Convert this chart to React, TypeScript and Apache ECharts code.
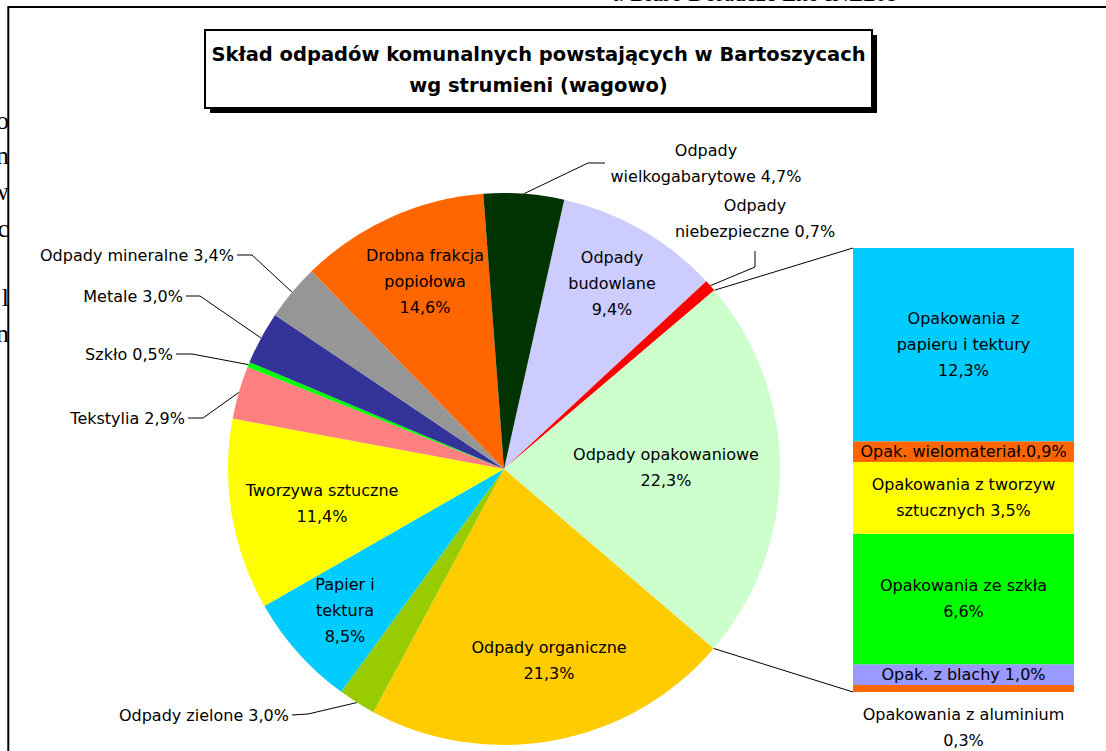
import React, { useEffect, useRef } from "react";
import * as echarts from "echarts";

// ---------- data ----------
const pieNames = [
  "Odpady\nbudowlane",
  "Odpady\nniebezpieczne",
  "Odpady opakowaniowe",
  "Odpady organiczne",
  "Odpady zielone",
  "Papier i\ntektura",
  "Tworzywa sztuczne",
  "Tekstylia",
  "Szkło",
  "Metale",
  "Odpady mineralne",
  "Drobna frakcja\npopiołowa",
  "Odpady\nwielkogabarytowe",
];
const pieLabelSep = ["\n", " ", "\n", "\n", " ", "\n", "\n", " ", " ", " ", " ", "\n", " "];
// percentages printed on the chart
const piePrinted = [9.4, 0.7, 22.3, 21.3, 3.0, 8.5, 11.4, 2.9, 0.5, 3.0, 3.4, 14.6, 4.7];
// slice sizes as drawn in the picture
const pieShares = [9.6, 0.7, 22.5, 21.6, 2.2, 6.7, 11.2, 3.1, 0.3, 3.1, 3.3, 11.1, 4.7];

const barNames = [
  "Opakowania z\npapieru i tektury",
  "Opak. wielomateriał.",
  "Opakowania z tworzyw\nsztucznych",
  "Opakowania ze szkła",
  "Opak. z blachy",
  "Opakowania z aluminium",
];
const barSep = ["\n", "", " ", "\n", " ", "\n"];
const barPrinted = [12.3, 0.9, 3.5, 6.6, 1.0, 0.3];
// segment heights as drawn
const barShares = [9.7, 1.05, 3.6, 6.55, 1.05, 0.35];

const titleText = "Skład odpadów komunalnych powstających w Bartoszycach\nwg strumieni (wagowo)";

// ---------- styles / layout ----------
const pieColors = ["#CCCCFF", "#FF0000", "#CCFFCC", "#FFCC00", "#99CC00", "#00CCFF", "#FFFF00", "#FF8080", "#00FF00", "#333399", "#969696", "#FF6600", "#003300"];
const barColors = ["#00CCFF", "#FF6600", "#FFFF00", "#00FF00", "#9999FF", "#FF6600"];

const FONT = "DejaVu Sans";
const PIE_CX = 504, PIE_CY = 469, PIE_R = 276;
const PIE_START = 12.6; // degrees clockwise from 12 o'clock
const BAR_LEFT = 853, BAR_TOP = 248, BAR_W = 221, BAR_H = 444;
const OPAK_INDEX = 2;

type LP = { x: number; y: number; align: string; elbow?: number[][] };
const pieLabelPos: LP[] = [
  { x: 612, y: 283, align: "center" },
  { x: 755, y: 218, align: "center", elbow: [[755, 267], [755, 251]] },
  { x: 666, y: 467, align: "center" },
  { x: 549, y: 660, align: "center" },
  { x: 289, y: 715, align: "right", elbow: [[308, 714], [292, 715]] },
  { x: 345, y: 610, align: "center" },
  { x: 322, y: 503, align: "center" },
  { x: 185, y: 418, align: "right", elbow: [[203, 418], [188, 418]] },
  { x: 173, y: 354, align: "right", elbow: [[192, 354], [176, 354]] },
  { x: 183, y: 296, align: "right", elbow: [[200, 296], [186, 296]] },
  { x: 234, y: 255, align: "right", elbow: [[252, 255], [237, 255]] },
  { x: 425, y: 281, align: "center" },
  { x: 706, y: 163, align: "center", elbow: [[588, 163], [605, 163]] },
];

const bgLetters = ["o", "n", "w", "c", "l", "n"];
const bgLetterY = [120, 155, 191, 228, 297, 333];

const fmt = (v: number) => v.toFixed(1).replace(".", ",") + "%";

const pieTotal = pieShares.reduce((a, b) => a + b, 0);
const cumBefore = (i: number) => pieShares.slice(0, i).reduce((a, b) => a + b, 0);
const pointAt = (share: number) => {
  const deg = PIE_START + (share / pieTotal) * 360;
  const rad = (deg * Math.PI) / 180;
  return [PIE_CX + PIE_R * Math.sin(rad), PIE_CY - PIE_R * Math.cos(rad)];
};
const edgePoint = (i: number) => pointAt(cumBefore(i) + pieShares[i] / 2);

export default function App() {
  const ref = useRef<HTMLDivElement>(null);
  useEffect(() => {
    document.body.style.margin = "0";
    const chart = echarts.init(ref.current as HTMLDivElement, undefined, { renderer: "svg" });

    const barTotal = barShares.reduce((a, b) => a + b, 0);
    const barOrder = barShares.map((_, i) => barShares.length - 1 - i); // bottom first

    const opStart = pointAt(cumBefore(OPAK_INDEX));
    const opEnd = pointAt(cumBefore(OPAK_INDEX + 1));

    const graphic: any[] = [];
    bgLetters.forEach((t, i) => {
      graphic.push({
        type: "text", x: 9, y: bgLetterY[i], z: 0,
        style: { text: t, fill: "#000", font: "26px 'Liberation Serif'", textAlign: "right", textVerticalAlign: "middle" },
      });
    });
    graphic.push({
      type: "text", x: 612, y: 5, z: 0,
      style: { text: "t. Biuro Doradcze Eko INEBA", fill: "#000", font: "23px 'Liberation Serif'", textAlign: "left", textVerticalAlign: "bottom" },
    });
    graphic.push({
      type: "rect", z: 1, shape: { x: 8.3, y: 7, width: 1300, height: 900 },
      style: { fill: "none", stroke: "#000", lineWidth: 2 },
    });
    graphic.push({
      type: "rect", z: 1, shape: { x: 210, y: 35, width: 667, height: 78 },
      style: { fill: "#000" },
    });
    graphic.push({
      type: "rect", z: 1, shape: { x: 205, y: 30, width: 667, height: 78 },
      style: { fill: "#fff", stroke: "#000", lineWidth: 2 },
    });
    graphic.push({
      type: "line", z: 1, shape: { x1: opStart[0], y1: opStart[1], x2: BAR_LEFT, y2: BAR_TOP },
      style: { stroke: "#000", lineWidth: 1 },
    });
    graphic.push({
      type: "line", z: 1, shape: { x1: opEnd[0], y1: opEnd[1], x2: BAR_LEFT, y2: BAR_TOP + BAR_H },
      style: { stroke: "#000", lineWidth: 1 },
    });

    const labelBase = { color: "#000", fontFamily: FONT, fontSize: 16, lineHeight: 26 };

    chart.setOption({
      animation: false,
      backgroundColor: "#fff",
      title: {
        text: titleText,
        left: 538.5,
        top: 39,
        textAlign: "center",
        padding: 0,
        textStyle: { fontFamily: FONT, fontWeight: "bold", fontSize: 19.5, lineHeight: 31, color: "#000" },
      },
      graphic: { elements: graphic },
      grid: { left: BAR_LEFT, top: BAR_TOP, width: BAR_W, height: BAR_H },
      xAxis: { type: "category", data: ["Odpady opakowaniowe"], show: false },
      yAxis: { type: "value", min: 0, max: barTotal, show: false },
      series: [
        {
          type: "pie",
          silent: true,
          center: [PIE_CX, PIE_CY],
          radius: PIE_R,
          startAngle: 90 - PIE_START,
          clockwise: true,
          avoidLabelOverlap: false,
          emphasis: { disabled: true },
          label: { show: true, ...labelBase },
          labelLine: { show: false, lineStyle: { color: "#000", width: 1 } },
          labelLayout: (params: any) => {
            const i = params.dataIndex;
            const p = pieLabelPos[i];
            const res: any = { x: p.x, y: p.y, align: p.align, verticalAlign: "middle" };
            if (p.elbow) res.labelLinePoints = [edgePoint(i), p.elbow[0], p.elbow[1]];
            return res;
          },
          data: pieShares.map((v, i) => ({
            value: v,
            name: pieNames[i].replace(/\n/g, " "),
            itemStyle: { color: pieColors[i] },
            label: {
              position: pieLabelPos[i].elbow ? "outside" : "inside",
              formatter: pieNames[i] + pieLabelSep[i] + fmt(piePrinted[i]),
            },
            labelLine: { show: !!pieLabelPos[i].elbow },
          })),
        },
        ...barOrder.map((i) => ({
          type: "bar",
          stack: "opak",
          silent: true,
          barWidth: "100%",
          data: [barShares[i]],
          itemStyle: { color: barColors[i] },
          label: {
            show: true,
            position: i === barShares.length - 1 ? "bottom" : "inside",
            distance: 9,
            formatter: barNames[i] + barSep[i] + fmt(barPrinted[i]),
            ...labelBase,
          },
        })),
      ],
    });
    return () => chart.dispose();
  }, []);
  return <div ref={ref} style={{ position: "absolute", left: 0, top: 0, width: 1106, height: 751 }} />;
}
